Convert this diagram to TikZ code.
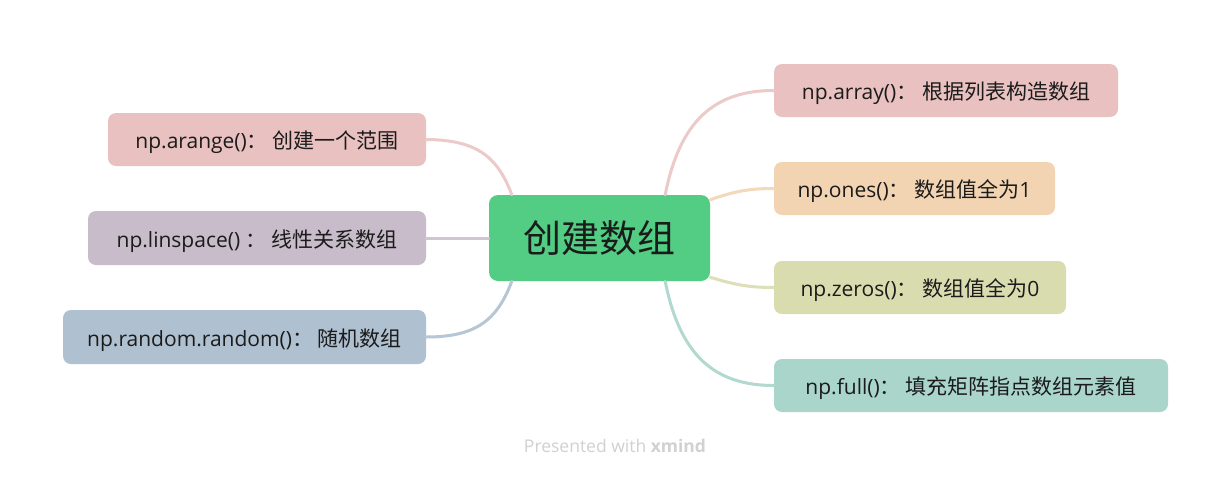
\documentclass[tikz,border=0pt]{standalone}
\usepackage{fontspec}
\setmainfont{Open Sans}
\newfontfamily\cjk{Noto Sans CJK SC}
\newcommand\zh[1]{{\cjk #1}}
\definecolor{cgreen}{HTML}{52CD83}
\definecolor{cpink}{HTML}{E8C1C0}
\definecolor{cpurple}{HTML}{C8BBCA}
\definecolor{cblue}{HTML}{AFC0D0}
\definecolor{corange}{HTML}{F3D4B2}
\definecolor{colive}{HTML}{D9DCAF}
\definecolor{cteal}{HTML}{A9D5CA}
\definecolor{ctext}{HTML}{1B1B1B}
\tikzset{
  topic/.style={rounded corners=8pt, inner sep=0pt, minimum height=53pt, text=ctext,
    text height=19pt, text depth=1pt,
    font=\fontsize{21}{25}\selectfont},
  conn/.style={line width=3pt, line cap=round},
}
\begin{document}
\begin{tikzpicture}[x=1pt,y=-1pt]
\useasboundingbox[fill=white] (0,0) rectangle (1232,477);
\node[rounded corners=9pt, fill=cgreen, minimum width=221pt, minimum height=86pt, inner sep=0pt, text=ctext, font=\cjk\fontsize{38}{42}\selectfont] (c) at (599.5,238) {创建数组};
\node[topic, fill=cpink, minimum width=318pt] (l1) at (267,139.5) {np.arange()\zh{： 创建一个范围}};
\node[topic, fill=cpurple, minimum width=338pt, minimum height=54pt] (l2) at (257,238) {np.linspace() \zh{： 线性关系数组}};
\node[topic, fill=cblue, minimum width=363pt, minimum height=54pt] (l3) at (244.5,337) {np.random.random()\zh{： 随机数组}};
\node[topic, fill=cpink, minimum width=344pt] (r1) at (946,90.5) {np.array()\zh{： 根据列表构造数组}};
\node[topic, fill=corange, minimum width=281pt] (r2) at (914.5,188.5) {np.ones()\zh{： 数组值全为}1};
\node[topic, fill=colive, minimum width=292pt] (r3) at (920,287.5) {np.zeros()\zh{： 数组值全为}0};
\node[topic, fill=cteal, minimum width=394pt] (r4) at (971,385.5) {np.full()\zh{： 填充矩阵指点数组元素值}};
\node[text=black!18, font=\fontsize{17.5}{20}\selectfont] (foot) at (615,446) {Presented with \textbf{xmind}};
\coordinate (ctl) at ([xshift=23pt]c.north west);
\coordinate (cbl) at ([xshift=23pt]c.south west);
\coordinate (ctr) at ([xshift=-45pt]c.north east);
\coordinate (cbr) at ([xshift=-45pt]c.south east);
\coordinate (cer1) at ([yshift=-5pt]c.north east);
\coordinate (cer2) at ([yshift=4pt]c.south east);
\draw[conn, cpink!85] (ctl) .. controls (497,155) and (475,140) .. (l1.east);
\draw[conn, cpurple!85] (c.west) -- (l2.east);
\draw[conn, cblue!90] (cbl) .. controls (497,321) and (475,337) .. (l3.east);
\draw[conn, cpink!85] (ctr) .. controls (680,120) and (715,90.5) .. (r1.west);
\draw[conn, corange!90] (cer1) .. controls (735,191) and (750,188.5) .. (r2.west);
\draw[conn, colive!90] (cer2) .. controls (735,285) and (750,287.5) .. (r3.west);
\draw[conn, cteal!90] (cbr) .. controls (680,356) and (715,385.5) .. (r4.west);
\end{tikzpicture}
\end{document}
